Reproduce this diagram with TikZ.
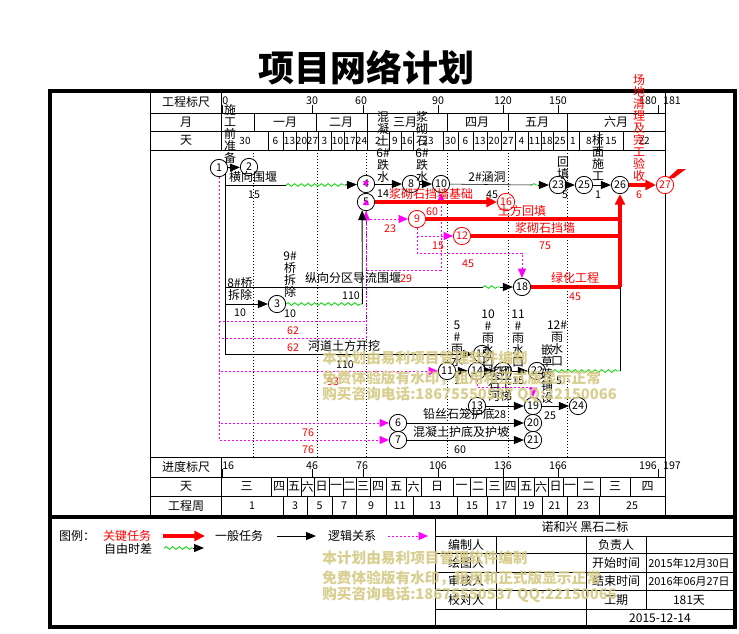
\documentclass[tikz,border=0pt]{standalone}
\usepackage{fontspec}
\setmainfont{Noto Sans CJK SC}
\usetikzlibrary{arrows.meta,decorations.pathmorphing}
\definecolor{logi}{RGB}{255,0,255}
\definecolor{wave}{RGB}{0,215,0}
\definecolor{wmark}{RGB}{212,201,132}
\tikzset{
    evt/.style={circle,draw,fill=white,line width=0.6pt,minimum size=13pt,inner sep=0pt,font=\fontsize{8}{8}\selectfont},
    cevt/.style={evt,draw=red,text=red},
    task/.style={line width=0.7pt,-{Triangle[length=7.5pt,width=6pt]}},
    crit/.style={red,line width=2.4pt,-{Triangle[length=8pt,width=7.5pt]}},
    critl/.style={red,line width=2.4pt},
    dep/.style={logi,line width=0.75pt,dash pattern=on 1.5pt off 1.5pt,-{Triangle[length=7pt,width=6pt]}},
    depl/.style={logi,line width=0.75pt,dash pattern=on 1.5pt off 1.5pt},
    slack/.style={wave,line width=0.6pt,decorate,decoration={snake,amplitude=1pt,segment length=5pt}},
    lbl/.style={inner sep=0pt,font=\fontsize{9}{9}\selectfont},
    num/.style={inner sep=0pt,font=\fontsize{8}{8}\selectfont},
    rlbl/.style={lbl,text=red},
    rnum/.style={num,text=red},
    vt/.style={lbl,align=center,anchor=north},
    rvt/.style={vt,text=red},
    wm/.style={anchor=west,inner sep=0pt,text=wmark,text opacity=0.9,font=\fontsize{11}{11}\selectfont\bfseries},
}
\begin{document}
\begin{tikzpicture}[x=0.75pt,y=-0.75pt]
	\useasboundingbox (0,0) rectangle (739,633);
	\node[font=\fontsize{27}{27}\selectfont\bfseries] (titre) at (366,68) {项目网络计划};
	%cadre
	\draw[line width=3pt] (50,91) rectangle (735,627);
	\draw[line width=3pt] (50,517) -- (735,517);
	%tableau
	\draw (150,91) -- (150,517) (221,91) -- (221,150) (221,457) -- (221,517) (665,91) -- (665,517);
	\foreach \y in {113,131,150,457,477,496} \draw (150,\y) -- (665,\y);
	\foreach \x in {222,312,363,438,503,558,658} {\draw (\x,105) -- (\x,113); \draw (\x,469) -- (\x,477);}
	\foreach \x in {254,316,367,447,508,567} \draw (\x,113) -- (\x,131);
	\foreach \x in {268,283,296,307,318,331,344,356,367,389,401,413,443,458,473,487,501,515,528,541,553,567,579,599,623} \draw (\x,131) -- (\x,150);
	\foreach \x in {271,287,301,314,329,343,356,370,386,406,421,453,470,486,503,518,534,548,563,577,600,630} \draw (\x,477) -- (\x,496);
	\foreach \x in {283,307,332,356,386,413,457,487,515,542,567,599} \draw (\x,496) -- (\x,517);
	\foreach \x in {253,317,366,447,508,567} \draw[dash pattern=on 0.75pt off 1.5pt] (\x,150) -- (\x,457);
	\node[lbl] at (186,102) {工程标尺};
	\node[lbl] at (186,122) {月};
	\node[lbl] at (186,140.5) {天};
	\node[lbl] at (186,467) {进度标尺};
	\node[lbl] at (186,486.5) {天};
	\node[lbl] at (186,506) {工程周};
	\node[num,anchor=west] at (222,101) {0};
	\foreach \x/\t in {312/30,361/60,438/90,503/120,558/150,648/180,672/181} \node[num] at (\x,101) {\t};
	\node[num,anchor=west] at (222,466) {16};
	\foreach \x/\t in {312/46,362/76,438/106,503/136,558/166,648/196,672/197} \node[num] at (\x,466) {\t};
	\foreach \x/\t in {285/一月,341/二月,405/三月,477/四月,537/五月,616/六月} \node[lbl] at (\x,122) {\t};
	\foreach \x/\t in {245/30,275.5/6,289.5/13,301.5/20,312.5/27,324.5/3,337.5/10,350/17,361.5/24,378/2,395/9,407/16,428/23,450.5/30,465.5/6,480/13,494/20,508/27,521.5/4,534.5/11,547/18,560/25,573/1,589/8,611/15,644/22}
		\node[num,font=\fontsize{7.5}{8}\selectfont] at (\x,140.5) {\t};
	\foreach \x/\t in {246.5/三,279/四,294/五,307.5/六,321.5/日,336/一,349.5/二,363/三,378/四,396/五,413.5/六,437/日,461.5/一,478/二,494.5/三,510.5/四,526/五,541/六,555.5/日,570/一,588.5/二,615/三,647.5/四}
		\node[lbl] at (\x,486.5) {\t};
	\foreach \x/\t in {252/1,295/3,319.5/5,344/7,371/9,399.5/11,435/13,472/15,501/17,528.5/19,554.5/21,583/23,632/25}
		\node[num] at (\x,506) {\t};

	%evenements
	\node[evt] (n1) at (219,168) {1};
	\node[evt] (n2) at (249,167) {2};
	\node[evt] (n3) at (277,304) {3};
	\node[evt] (n4) at (366,184) {4};
	\node[evt] (n5) at (366,202) {5};
	\node[evt] (n6) at (398,423) {6};
	\node[evt] (n7) at (398,440) {7};
	\node[evt] (n8) at (411,184) {8};
	\node[cevt] (n9) at (417,219) {9};
	\node[evt] (n10) at (441,184) {10};
	\node[evt] (n11) at (447,371) {11};
	\node[cevt] (n12) at (462,236) {12};
	\node[evt] (n13) at (477,406) {13};
	\node[evt] (n14) at (477,371) {14};
	\node[evt] (n15) at (482,354) {15};
	\node[cevt] (n16) at (506,202) {16};
	\node[evt] (n17) at (503,371) {17};
	\node[evt] (n18) at (522,287) {18};
	\node[evt] (n19) at (533,406) {19};
	\node[evt] (n20) at (533,423) {20};
	\node[evt] (n21) at (533,440) {21};
	\node[evt] (n22) at (537,371) {22};
	\node[evt] (n23) at (558,185) {23};
	\node[evt] (n24) at (578,406) {24};
	\node[evt] (n25) at (584,185) {25};
	\node[evt] (n26) at (620,185) {26};
	\node[cevt] (n27) at (665,185) {27};
	\coordinate (w4a) at (286,185);
	\coordinate (w4b) at (345,185);
	\coordinate (w18a) at (483,287);
	\coordinate (w18b) at (500,287);
	\coordinate (k5) at (362.3,304);
	\coordinate (w23a) at (532,185);
	\coordinate (w23b) at (538,185);
	\coordinate (j9) at (620,219);
	\coordinate (j12) at (620,236);
	\coordinate (j18) at (620,287);
	\coordinate (w22a) at (553,371);
	\coordinate (w22b) at (620,371);
	\coordinate (m1) at (366,321);
	\coordinate (m2) at (366,338);
	\coordinate (m4) at (441,270);
	\coordinate (m5) at (522,253);
	\coordinate (m7) at (533,387);

	%relations logiques
	\draw[dep] (n1) |- (n6);
	\draw[dep] (n1) |- (n7);
	\draw[dep] (n1) |- (n11);
	\draw[depl] (n1) |- (m1);
	\draw[dep] (n1) |- (m2) -- (n5);
	\draw[dep] (n5) |- (n9);
	\draw[dep] (n5) |- (m4) -- (n10);
	\draw[dep] (n9) |- (n12);
	\draw[dep] (n9) |- (m5) -- (n18);
	\draw[dep] (n14) |- (m7) -- (n19);
	%taches
	\draw[task] (n1) -- (n2);
	\draw (n1.south east) |- (w4a);
	\draw[slack] (w4a) -- (w4b);
	\draw[task] (w4b) -- (n4);
	\draw (n1.south east) |- (w18a);
	\draw[slack] (w18a) -- (w18b);
	\draw[task] (w18b) -- (n18);
	\draw[task] (n1.south east) |- (n3);
	\draw[slack] (n3) -- (k5);
	\draw[task] (k5) -- (n5.-115);
	\draw[task] (n1.south east) |- (n15);
	\draw[task] (n4) -- (n8);
	\draw[task] (n8) -- (n10);
	\draw (n10) -- (w23a);
	\draw[slack] (w23a) -- (w23b);
	\draw[task] (w23b) -- (n23);
	\draw[task] (n23) -- (n25);
	\draw[task] (n25) -- (n26);
	\draw[task] (n11) -- (n14);
	\draw[task] (n14) -- (n17);
	\draw[task] (n17) -- (n22);
	\draw (n22) -- (w22a);
	\draw[slack] (w22a) -- (w22b);
	\draw (w22b) -- (j18);
	\draw[task] (n13) -- (n19);
	\draw[task] (n19) -- (n24);
	\draw[task] (n6) -- (n20);
	\draw[task] (n7) -- (n21);
	%chemin critique
	\draw[crit] (n5) -- (n16);
	\draw[critl] (n9) -- (j9);
	\draw[critl] (n12) -- (j12);
	\draw[critl] (n18) -- (j18);
	\draw[crit] (j18) -- (n26);
	\draw[crit] (n26) -- (n27);
	\fill[red] (668,178) -- (678,169) -- (686,169) -- (674,178) -- cycle;
	\fill[logi] (n4.center) ++(-3,-3) -- ++(6,0) -- ++(-3,6) -- cycle;
	\fill[logi] (n5.center) ++(-3,3) -- ++(6,0) -- ++(-3,-6) -- cycle;

	%textes des taches
	\node[vt] at (230,104) {施\\工\\前\\准\\备};
	\node[lbl] at (253,177) {横向围堰};
	\node[num] at (254,195) {15};
	\node[vt] at (383,111) {混\\凝\\土\\6\#\\跌\\水};
	\node[vt] at (422,111) {浆\\砌\\石\\6\#\\跌\\水};
	\node[num] at (383,194) {14};
	\node[rlbl] at (431,194) {浆砌石挡墙基础};
	\node[lbl] at (487,177) {2\#涵洞};
	\node[num] at (492,195) {45};
	\node[vt] at (563,157) {回\\填};
	\node[num] at (565,195) {5};
	\node[vt] at (598,134) {桥\\面\\施\\工};
	\node[num] at (598,195) {1};
	\node[rvt] at (639,74) {场\\地\\清\\理\\及\\完\\工\\验\\收};
	\node[rnum] at (639,195) {6};
	\node[rnum] at (432,212) {60};
	\node[rnum] at (390,229) {23};
	\node[rlbl] at (522,211) {土方回填};
	\node[rlbl] at (545,228) {浆砌石挡墙};
	\node[rnum] at (545,246) {75};
	\node[rnum] at (438,246) {15};
	\node[rnum] at (468,264) {45};
	\node[lbl] at (353,278) {纵向分区导流围堰};
	\node[rnum] at (406,279) {29};
	\node[rlbl] at (575,278) {绿化工程};
	\node[rnum] at (575,297) {45};
	\node[lbl,align=center] at (240,289) {8\#桥\\拆除};
	\node[num] at (240,313) {10};
	\node[vt] at (290,252) {9\#\\桥\\拆\\除};
	\node[num] at (290,314) {10};
	\node[num] at (351,296) {110};
	\node[rnum] at (293,331) {62};
	\node[rnum] at (293,348) {62};
	\node[lbl] at (344,346) {河道土方开挖};
	\node[num] at (345,365) {110};
	\node[rnum] at (333,382) {93};
	\node[rnum] at (308,433) {76};
	\node[rnum] at (308,450) {76};
	\node[vt] at (457,321) {5\\\#\\雨\\水};
	\node[vt] at (488,310) {10\\\#\\雨\\水\\口};
	\node[vt] at (518,310) {11\\\#\\雨\\水\\口};
	\node[vt] at (557,321) {12\#\\雨\\水\\口};
	\node[vt] at (547,344) {嵌\\草\\砖\\铺\\设};
	\node[num] at (457,381) {1};
	\node[num] at (518,381) {15};
	\node[num] at (559,381) {5};
	\node[lbl,align=center] at (500,384) {浆砌\\石下\\河梯};
	\node[num] at (500,415) {28};
	\node[num] at (550,416) {25};
	\node[lbl] at (459,414) {铅丝石笼护底};
	\node[lbl] at (461,432) {混凝土护底及护坡};
	\node[num] at (460,450) {60};

	%legende
	\coordinate (lg1) at (163,536); \coordinate (lg2) at (205,536);
	\coordinate (lg3) at (277,536); \coordinate (lg4) at (316,536);
	\coordinate (lg5) at (388,536); \coordinate (lg6) at (428,536);
	\coordinate (lg7) at (164,548); \coordinate (lg8) at (193,548); \coordinate (lg9) at (204,548);
	\node[lbl] at (77,536) {图例：};
	\node[rlbl] at (127,536) {关键任务};
	\draw[crit] (lg1) -- (lg2);
	\node[lbl] at (239,536) {一般任务};
	\draw[task] (lg3) -- (lg4);
	\node[lbl] at (352,536) {逻辑关系};
	\draw[dep] (lg5) -- (lg6);
	\node[lbl] at (128,549) {自由时差};
	\draw[slack] (lg7) -- (lg8);
	\draw[task] (lg8) -- (lg9);

	%cartouche
	\draw (435,517) -- (435,627);
	\foreach \y in {536,553,572,590,609} \draw (435,\y) -- (735,\y);
	\draw (496,536) -- (496,609) (586,536) -- (586,627) (646,536) -- (646,609);
	\node[lbl] at (585,527) {诺和兴 黑石二标};
	\foreach \y/\t in {545/编制人,563/绘图人,581/审核人,600/校对人} \node[lbl] at (466,\y) {\t};
	\foreach \y/\t in {545/负责人,563/开始时间,581/结束时间,600/工期} \node[lbl] at (616,\y) {\t};
	\node[lbl,font=\fontsize{8.2}{9}\selectfont] at (689,563) {2015年12月30日};
	\node[lbl,font=\fontsize{8.2}{9}\selectfont] at (689,581) {2016年06月27日};
	\node[lbl] at (689,600) {181天};
	\node[lbl] at (660,618) {2015-12-14};

	%filigrane
	\foreach \y in {358,558} {
		\node[wm] at (322,\y) {本计划由易利项目管理软件编制};
		\node[wm] at (322,\y+20) {免费体验版有水印，租用和正式版显示正常};
		\node[wm] at (322,\y+37) {购买咨询电话:18675550537 QQ:22150066};
	}
\end{tikzpicture}
\end{document}
